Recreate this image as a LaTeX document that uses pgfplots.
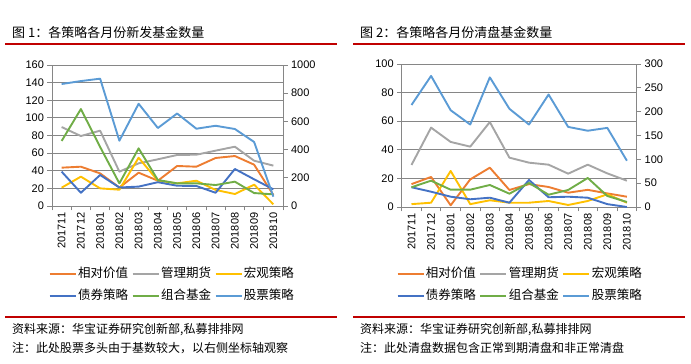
\documentclass[border=0pt]{standalone}
\usepackage{fontspec}
\setmainfont{Liberation Sans}
\newfontfamily\cjk{Noto Sans CJK SC}
\usepackage{pgfplots}
\pgfplotsset{compat=1.18}
\definecolor{cOrange}{HTML}{ED7D31}
\definecolor{cGrey}{HTML}{A5A5A5}
\definecolor{cYellow}{HTML}{FFC000}
\definecolor{cDBlue}{HTML}{4472C4}
\definecolor{cGreen}{HTML}{70AD47}
\definecolor{cLBlue}{HTML}{5B9BD5}
\definecolor{cRed}{HTML}{C00000}
\definecolor{cAxis}{HTML}{868686}
\pgfplotsset{
  base/.style={
    scale only axis, clip=false,
    xmin=0.5, xmax=12.5,
    xtick={0.5,1.5,...,12.5},
    x tick label as interval,
    xticklabels={201711,201712,201801,201802,201803,201804,201805,201806,201807,201808,201809,201810},
    x tick label style={rotate=90, anchor=east, font=\fontsize{11}{11}\selectfont, inner sep=2pt},
    y tick label style={font=\fontsize{11}{11}\selectfont},
    /pgf/number format/assume math mode=true,
    axis line style={cAxis, line width=0.8pt, -},
    tick style={cAxis, line width=0.8pt},
    major tick length=4.5pt,
    tick align=outside,
    every axis plot/.append style={line width=1.9pt, line join=round, mark=none},
  },
  leg/.style={
    legend columns=3,
    legend image code/.code={\draw[##1] (0pt,0pt) -- (26pt,0pt);},
    legend style={draw=none, fill=none, font=\cjk\fontsize{12.5}{12.5}\selectfont,
      nodes={text height=9pt, text depth=2pt, inner ysep=2pt, inner xsep=1.5pt},
      row sep=7pt,
      /tikz/every even column/.append style={column sep=2pt}},
  },
}
\begin{document}
\begin{tikzpicture}[x=1pt,y=1pt]
\useasboundingbox (0,0) rectangle (691,364);
% headers
\node[anchor=base west, font=\cjk\fontsize{13}{13}\selectfont, inner sep=0] at (12,326) {图 1：各策略各月份新发基金数量};
\node[anchor=base west, font=\cjk\fontsize{13}{13}\selectfont, inner sep=0] at (360,326) {图 2：各策略各月份清盘基金数量};
\draw[cRed, line width=2pt] (5,319.7) -- (337,319.7);
\draw[cRed, line width=2pt] (353,319.7) -- (685,319.7);
\draw[cRed, line width=2pt] (5,47.3) -- (337,47.3);
\draw[cRed, line width=2pt] (353,47.3) -- (685,47.3);
\node[anchor=base west, font=\cjk\fontsize{12}{12}\selectfont, inner sep=0] at (12,30.5) {资料来源：华宝证券研究创新部,私募排排网};
\node[anchor=base west, font=\cjk\fontsize{12}{12}\selectfont, inner sep=0] at (12,11.5) {注：此处股票多头由于基数较大，以右侧坐标轴观察};
\node[anchor=base west, font=\cjk\fontsize{12}{12}\selectfont, inner sep=0] at (360,30.5) {资料来源：华宝证券研究创新部,私募排排网};
\node[anchor=base west, font=\cjk\fontsize{12}{12}\selectfont, inner sep=0] at (360,11.5) {注：此处清盘数据包含正常到期清盘和非正常清盘};

% ---------- chart 1 ----------
\begin{axis}[base, leg, at={(52pt,158pt)}, anchor=south west, width=231pt, height=141pt,
  ymin=0, ymax=160, ytick={0,20,...,160},
  axis x line*=bottom, axis y line*=left,
  ymajorgrids, grid style={cAxis, line width=0.8pt},
  legend style={at={(0.52,-0.56)}, anchor=center}]
\addplot[cOrange] coordinates {(1,43.5)(2,44.6)(3,37)(4,21)(5,37.8)(6,28.7)(7,45.4)(8,44.6)(9,54.5)(10,56.7)(11,46.9)(12,12.5)};
\addplot[cGrey] coordinates {(1,89.6)(2,79.4)(3,85.5)(4,39)(5,48.4)(6,53)(7,57.9)(8,58.2)(9,62.8)(10,67.3)(11,51.4)(12,45.8)};
\addplot[cYellow] coordinates {(1,20.8)(2,33.3)(3,20)(4,18.5)(5,54.8)(6,28.7)(7,25.7)(8,28.7)(9,18.2)(10,13.6)(11,24.2)(12,1.9)};
\addplot[cDBlue] coordinates {(1,39)(2,15)(3,35.2)(4,21)(5,22)(6,27)(7,23)(8,22.7)(9,15)(10,42)(11,30.3)(12,18.9)};
\addplot[cGreen] coordinates {(1,73.8)(2,110)(3,67)(4,25.7)(5,65.4)(6,29.5)(7,25.7)(8,25.7)(9,23.8)(10,27.6)(11,14.7)(12,13.2)};
\addlegendimage{cLBlue, line width=1.9pt}
\legend{相对价值,管理期货,宏观策略,债券策略,组合基金,股票策略}
\end{axis}
\begin{axis}[base, at={(52pt,158pt)}, anchor=south west, width=231pt, height=141pt,
  ymin=0, ymax=1000, ytick={0,200,400,600,800,1000},
  yticklabels={0,200,400,600,800,1000},
  axis y line*=right, axis x line=none]
\addplot[cLBlue] coordinates {(1,865)(2,886)(3,903)(4,463)(5,725)(6,553)(7,656)(8,548)(9,569)(10,546)(11,454)(12,66)};
\end{axis}

% ---------- chart 2 ----------
\begin{axis}[base, leg, at={(401.7pt,157pt)}, anchor=south west, width=235pt, height=143pt,
  ymin=0, ymax=100, ytick={0,20,...,100},
  axis x line*=bottom, axis y line*=left,
  ymajorgrids, grid style={cAxis, line width=0.8pt},
  legend style={at={(0.503,-0.545)}, anchor=center}]
\addplot[cOrange] coordinates {(1,16)(2,21)(3,1.2)(4,19.3)(5,27.5)(6,11.9)(7,16)(8,14)(9,10)(10,12)(11,9.5)(12,7.2)};
\addplot[cGrey] coordinates {(1,29.4)(2,55.5)(3,45.5)(4,42.2)(5,59.4)(6,34.5)(7,31)(8,29.6)(9,23.3)(10,29.6)(11,23.5)(12,18.4)};
\addplot[cYellow] coordinates {(1,2)(2,3)(3,25.2)(4,2)(5,4.7)(6,3)(7,3)(8,4.2)(9,1.4)(10,4.2)(11,8.9)(12,3)};
\addplot[cDBlue] coordinates {(1,13.8)(2,10.7)(3,7.2)(4,5.4)(5,6.5)(6,3)(7,18.9)(8,6.8)(9,7.2)(10,6.5)(11,2)(12,0)};
\addplot[cGreen] coordinates {(1,13.8)(2,18.4)(3,12.1)(4,12.1)(5,15.4)(6,9.3)(7,16.8)(8,8.6)(9,11.9)(10,20.3)(11,7.7)(12,3.5)};
\addlegendimage{cLBlue, line width=1.9pt}
\legend{相对价值,管理期货,宏观策略,债券策略,组合基金,股票策略}
\end{axis}
\begin{axis}[base, at={(401.7pt,157pt)}, anchor=south west, width=235pt, height=143pt,
  ymin=0, ymax=300, ytick={0,50,...,300},
  axis y line*=right, axis x line=none]
\addplot[cLBlue] coordinates {(1,214)(2,275)(3,203)(4,173)(5,272)(6,206)(7,173)(8,236)(9,168)(10,160)(11,166)(12,97)};
\end{axis}
\end{tikzpicture}
\end{document}
